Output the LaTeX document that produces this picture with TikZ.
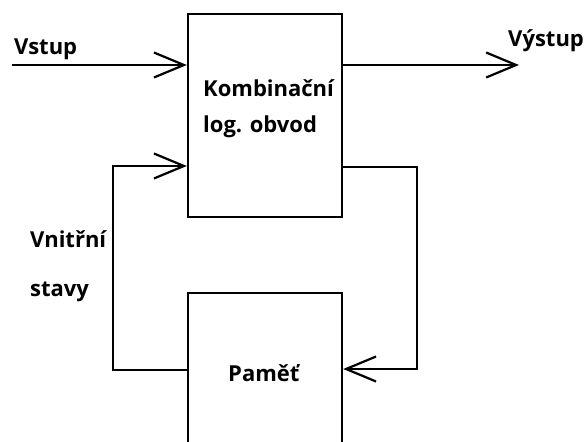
\documentclass[tikz,border=0pt]{standalone}
\usepackage{fontspec}
\setmainfont{Open Sans}
\usetikzlibrary{arrows.meta}
\begin{document}
\begin{tikzpicture}[x=1pt,y=-1pt,
  block/.style={draw, line width=2.4pt, minimum width=154pt, inner sep=0pt},
  label/.style={font=\bfseries\fontsize{22}{26}\selectfont, inner sep=0pt, anchor=base west},
  link/.style={line width=2.2pt, -{Straight Barb[length=30pt,width=25pt,line width=2.2pt]}}]
  \useasboundingbox (0,0) rectangle (585,441);
  \clip (0,0) rectangle (585,441);
  \fill[white] (0,0) rectangle (585,441);

  % blocks
  \node[block, minimum height=203pt] (komb) at (265,115.5) {};
  \node[block, minimum height=187pt] (mem) at (265,386.5) {};

  % texts
  \node[label] (t1) at (203,96) {Kombinační};
  \node[label] (t2) at (203,132) {log. obvod};
  \node[label] (t3) at (228,381) {Paměť};
  \node[label] (tin) at (14,55) {Vstup};
  \node[label] (tout) at (508,47) {Výstup};
  \node[label] (ts1) at (30,247) {Vnitřní};
  \node[label] (ts2) at (30,296) {stavy};

  % free ends and bends
  \coordinate (vin) at (12,65);
  \coordinate (vout) at (519,65);
  \coordinate (rtop) at (417,167);
  \coordinate (rbot) at (417,369);
  \coordinate (lbot) at (113,370);
  \coordinate (ltop) at (113,166);

  % connectors
  \draw[link] (vin) -- (komb.west |- vin);
  \draw[link] (komb.east |- vout) -- (vout);
  \draw[link] (komb.east |- rtop) -- (rtop) -- (rbot) -- (mem.east |- rbot);
  \draw[link] (mem.west |- lbot) -- (lbot) -- (ltop) -- (komb.west |- ltop);
\end{tikzpicture}
\end{document}
